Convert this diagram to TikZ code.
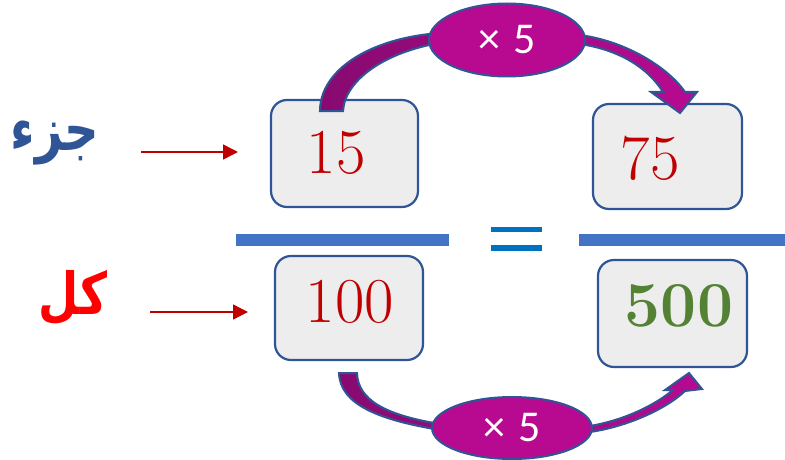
\documentclass[tikz,border=0pt]{standalone}
\usepackage{fontspec}
\usetikzlibrary{arrows.meta,shapes.geometric}
\TeXXeTstate=1
\newfontfamily\arabicfont[Script=Arabic]{DejaVu Sans}
\newfontfamily\calib{Carlito}
\definecolor{boxblue}{RGB}{47,85,151}
\definecolor{boxfill}{RGB}{237,237,237}
\definecolor{numred}{RGB}{192,0,0}
\definecolor{numgreen}{RGB}{84,130,53}
\definecolor{barblue}{RGB}{68,114,196}
\definecolor{eqblue}{RGB}{0,112,192}
\definecolor{mag}{RGB}{183,10,145}
\definecolor{magdark}{RGB}{135,10,112}
\definecolor{arabred}{RGB}{255,0,0}
\tikzset{
  numbox/.style={draw=boxblue, line width=2.2pt, fill=boxfill, rounded corners=16pt, inner sep=0pt},
  numtext/.style={font=\fontsize{64}{64}\selectfont, text=numred, inner sep=0pt},
  redarrow/.style={draw=numred, line width=1.4pt, -{Triangle[length=15pt,width=15pt]}},
  oval/.style={ellipse, draw=boxblue, line width=2pt, fill=mag, inner sep=0pt, text=white},
  arablabel/.style={inner sep=0pt, xscale=0.8},
  curvearrow/.style={draw=boxblue, line width=2pt, line join=miter, left color=magdark, middle color=mag, right color=mag}
}
\begin{document}
\begin{tikzpicture}[x=1pt,y=-1pt]
\useasboundingbox (0,0) rectangle (785,460);
% boxes
\node[numbox, minimum width=147pt, minimum height=107pt] (b15) at (344.5,153.5) {};
\node[numbox, minimum width=149pt, minimum height=105pt] (b75) at (667.5,156.5) {};
\node[numbox, minimum width=148pt, minimum height=104pt] (b100) at (349,308) {};
\node[numbox, minimum width=149pt, minimum height=107pt] (b500) at (672.5,313.5) {};
\node[numtext] (t15) at (336,153) {15};
\node[numtext] (t75) at (650,158) {75};
\node[numtext] (t100) at (350,302) {100};
\node[numtext, text=numgreen, font=\fontsize{64}{64}\selectfont\bfseries] (t500) at (679,306) {500};
% fraction bars
\draw[barblue, line width=12pt] (236,240) -- (449,240);
\draw[barblue, line width=12pt] (579,240) -- (785,240);
\draw[eqblue, line width=5.5pt] (491,229.5) -- (542,229.5);
\draw[eqblue, line width=6pt] (491,248) -- (542,248);
% arabic labels
\node[arablabel, text=boxblue] (lpart) at (55,143) {\arabicfont\bfseries\fontsize{60}{60}\selectfont\beginR جزء\endR};
\node[arablabel, text=arabred] (lwhole) at (73,298) {\arabicfont\bfseries\fontsize{58}{58}\selectfont\beginR كل\endR};
\coordinate (a1s) at (141,152);
\coordinate (a1e) at (238,152);
\coordinate (a2s) at (150,312);
\coordinate (a2e) at (248,312);
\draw[redarrow] (a1s) -- (a1e);
\draw[redarrow] (a2s) -- (a2e);
% top curved arrow
\path[curvearrow] (320,111) .. controls (320,70) and (370,38) .. (440,33)
  -- (580,35) .. controls (630,42) and (670,70) .. (685,92)
  -- (697,92) -- (680,113) -- (651,92) -- (663,92)
  .. controls (648,68) and (620,50) .. (580,44)
  -- (440,43) .. controls (385,52) and (345,80) .. (343,111) -- cycle;
% bottom curved arrow
\path[curvearrow] (339,373) .. controls (340,405) and (380,420) .. (440,430)
  -- (590,432) .. controls (625,427) and (665,410) .. (685,391)
  -- (702,389) -- (689,373) -- (665,390) -- (673,390)
  .. controls (655,405) and (625,420) .. (590,426)
  -- (440,424) .. controls (385,415) and (358,400) .. (357,373) -- cycle;
% ovals
\node[oval, minimum width=156pt, minimum height=73pt] (otop) at (507,40) {\calib\fontsize{44}{44}\selectfont ×\hspace{13pt}5};
\node[oval, minimum width=160pt, minimum height=62pt] (obot) at (512,428) {\calib\fontsize{44}{44}\selectfont ×\hspace{13pt}5};
\end{tikzpicture}
\end{document}
